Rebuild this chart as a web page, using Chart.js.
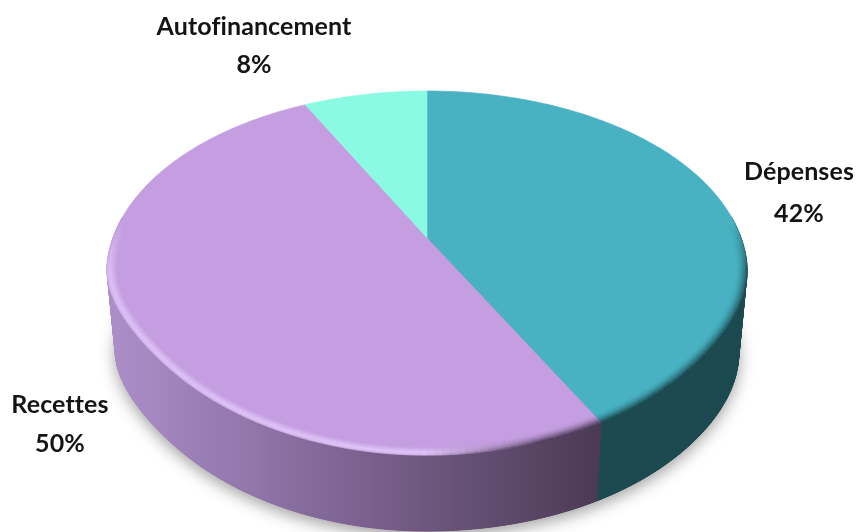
<!DOCTYPE html>
<html>
<head>
<meta charset="utf-8">
<style>
  html, body { margin: 0; padding: 0; background: #fff; }
  canvas { display: block; }
</style>
<script src="https://cdn.jsdelivr.net/npm/chart.js@4/dist/chart.umd.min.js"></script>
</head>
<body>
<canvas id="graphicFirst" width="856" height="532"></canvas>
<script>
// Camembert 3D: Chart.js calcule les angles, le plugin les projette en perspective
const categories = ['Dépenses', 'Recettes', 'Autofinancement'];
// printed labels are rounded, slices measured a bit finer on the picture
const seriesValues = [42.4, 50.1, 7.5];
const sliceColors = ['#48b2c2', '#c49ee0', '#8afae2'];

// label anchors
const labelPos = [[799, 172, 214], [60, 405, 444], [254, 27, 65]];

// perspective of the disc
const cx = 427, persp = -0.1923;
const topFace = { a: 314, b: 175.3, y0: 238, pullL: 26, pullR: 16 };
const bottomFace = { a: 306, b: 170.5, y0: 320, pullL: 24, pullR: 8 };

function project(face, ang, r){
  const u = r * Math.cos(ang), v = r * Math.sin(ang);
  const w = 1 + persp * v;
  let y = face.y0 + face.b * v / w;
  // the lower shoulders of the rim are flatter than a true ellipse
  if (v > 0) {
    const pull = u < 0 ? face.pullL : face.pullR;
    const s = Math.min(1, v / 0.75);
    y -= pull * u * u * s * s * (3 - 2 * s);
  }
  return [cx + face.a * u / w, y];
}

function tracePath(ctx, face, a0, a1, r, first){
  const steps = Math.max(2, Math.ceil(Math.abs(a1 - a0) * 60));
  for (let i = 0; i <= steps; i++) {
    const p = project(face, a0 + (a1 - a0) * i / steps, r);
    if (i === 0 && first) ctx.moveTo(p[0], p[1]); else ctx.lineTo(p[0], p[1]);
  }
}

function wallFill(ctx, idx){
  if (idx === 0) return '#1c4a50';
  const g = ctx.createLinearGradient(115, 0, 598, 0);
  g.addColorStop(0, '#ab8ec8');
  g.addColorStop(0.25, '#9379ad');
  g.addColorStop(0.5, '#7c6290');
  g.addColorStop(0.75, '#634f72');
  g.addColorStop(1, '#4c3a55');
  return g;
}

const pie3d = {
  id: 'pie3d',
  beforeDatasetsDraw(chart){
    const ctx = chart.ctx;
    const arcs = chart.getDatasetMeta(0).data;

    //---SHADOW
    ctx.save();
    ctx.shadowColor = 'rgba(0,0,0,0.38)';
    ctx.shadowBlur = 16;
    ctx.shadowOffsetY = 5;
    ctx.fillStyle = '#888';
    ctx.beginPath();
    tracePath(ctx, bottomFace, 0, Math.PI * 2, 1, true);
    ctx.closePath();
    ctx.fill();
    ctx.restore();

    //---WALLS
    arcs.forEach(function(arc, idx){
      const a0 = Math.max(arc.startAngle, -0.12);
      const a1 = Math.min(arc.endAngle, Math.PI + 0.12);
      if (a1 <= a0) return;
      const fill = wallFill(ctx, idx);
      ctx.fillStyle = fill;
      ctx.strokeStyle = fill;
      ctx.lineWidth = 1;
      // solid underlay, then the strips that reach the silhouette
      ctx.beginPath();
      tracePath(ctx, topFace, a0, a1, 1, true);
      tracePath(ctx, bottomFace, a1, a0, 1, false);
      ctx.closePath();
      ctx.fill();
      const steps = Math.ceil((a1 - a0) * 60);
      for (let s = 0; s < steps; s++) {
        const p0 = a0 + (a1 - a0) * s / steps;
        const p1 = a0 + (a1 - a0) * (s + 1) / steps;
        const t0 = project(topFace, p0, 1), t1 = project(topFace, p1, 1);
        const b0 = project(bottomFace, p0, 1), b1 = project(bottomFace, p1, 1);
        ctx.beginPath();
        ctx.moveTo(t0[0], t0[1]);
        ctx.lineTo(t1[0], t1[1]);
        ctx.lineTo(b1[0], b1[1]);
        ctx.lineTo(b0[0], b0[1]);
        ctx.closePath();
        ctx.fill();
        ctx.stroke();
      }
    });

    //---TOP FACES
    arcs.forEach(function(arc){
      const col = arc.options.backgroundColor;
      ctx.beginPath();
      ctx.moveTo(cx, topFace.y0);
      tracePath(ctx, topFace, arc.startAngle, arc.endAngle, 1, false);
      ctx.closePath();
      ctx.fillStyle = col;
      ctx.strokeStyle = col;
      ctx.lineWidth = 0.6;
      ctx.fill();
      ctx.stroke();
    });

    //---BEVEL
    const rings = 8;
    ctx.lineWidth = 1.6;
    ctx.lineCap = 'butt';
    arcs.forEach(function(arc, idx){
      const a0 = Math.max(arc.startAngle, -0.1);
      const a1 = Math.min(arc.endAngle, Math.PI + 0.1);
      if (a1 <= a0) return;
      const steps = Math.ceil((a1 - a0) * 50);
      for (let s = 0; s < steps; s++) {
        const p0 = a0 + (a1 - a0) * s / steps;
        const p1 = a0 + (a1 - a0) * (s + 1) / steps;
        const fade = Math.min(1, Math.max(0, (Math.sin(p0) + 0.1) / 0.3));
        const x = project(topFace, p0, 1)[0];
        // dark toward the right, light toward the left
        const dark = idx === 0 ? 1 : Math.min(1, Math.max(0, (x - 430) / 120));
        for (let i = 0; i < rings; i++) {
          const r = 1 - i * 0.0045;
          const pa = project(topFace, p0, r), pb = project(topFace, p1, r);
          const t = i / rings;
          const aDark = dark * (1 - t) * (1 - t) * 0.95;
          const aLight = (1 - dark) * (1 - Math.abs(t - 0.25) / 0.6) * 0.7;
          ctx.beginPath();
          ctx.moveTo(pa[0], pa[1]);
          ctx.lineTo(pb[0], pb[1]);
          if (aLight > 0) {
            ctx.strokeStyle = 'rgba(232,208,255,' + (aLight * fade) + ')';
            ctx.stroke();
          }
          if (aDark > 0) {
            ctx.strokeStyle = (idx === 0 ? 'rgba(28,74,80,' : 'rgba(76,58,85,') + (aDark * fade) + ')';
            ctx.stroke();
          }
        }
      }
    });
    return false;
  },
  afterDraw(chart){
    //---LABELS
    const ctx = chart.ctx;
    ctx.save();
    ctx.font = 'bold 25px Lato, "Noto Sans", sans-serif';
    ctx.letterSpacing = '0.1px';
    ctx.fillStyle = '#141414';
    ctx.textAlign = 'center';
    ctx.textBaseline = 'middle';
    categories.forEach(function(name, idx){
      ctx.fillText(name, labelPos[idx][0], labelPos[idx][1]);
      ctx.fillText(Math.round(seriesValues[idx]) + '%', labelPos[idx][0], labelPos[idx][2]);
    });
    ctx.restore();
  }
};

new Chart(document.getElementById('graphicFirst').getContext('2d'), {
  type: 'pie',
  data: {
    labels: categories,
    datasets: [{ data: seriesValues, backgroundColor: sliceColors, borderWidth: 0 }]
  },
  plugins: [pie3d],
  options: {
    responsive: false,
    animation: false,
    plugins: { legend: { display: false }, tooltip: { enabled: false } }
  }
});
</script>
</body>
</html>
